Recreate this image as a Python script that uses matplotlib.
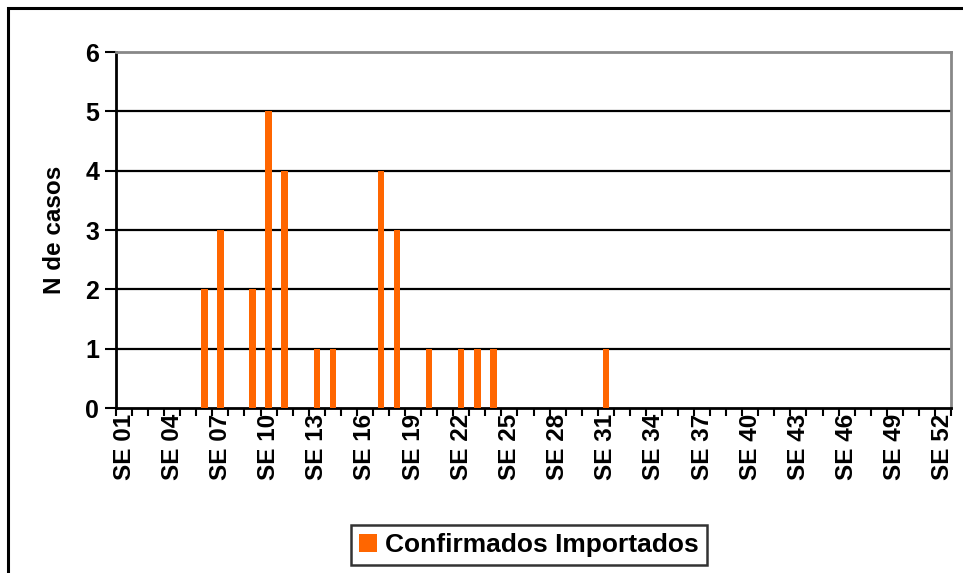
import matplotlib as mpl
mpl.use('agg')
import matplotlib.pyplot as plt
from matplotlib.patches import Rectangle
import numpy as np

# epidemiological weeks and confirmed imported cases
semanas = ['SE %02d' % s for s in range(1, 53)]
casos = [0, 0, 0, 0, 0, 2, 3, 0, 2, 5, 4, 0, 1, 1, 0, 0, 4, 3, 0, 1,
         0, 1, 1, 1, 0, 0, 0, 0, 0, 0, 1, 0, 0, 0, 0, 0, 0, 0, 0, 0,
         0, 0, 0, 0, 0, 0, 0, 0, 0, 0, 0, 0]
serie = 'Confirmados Importados'

plt.rcParams['font.family'] = ['Liberation Sans', 'DejaVu Sans']
plt.rcParams['font.weight'] = 'bold'

fig = plt.figure(figsize=(9.63, 5.73), dpi=100)
ax = fig.add_axes([116/963, 1-408/573, 835/963, 356/573])

# outer chart frame
fig.patches.append(Rectangle((8/963, -0.1), 1.2, 1-8/573+0.1, transform=fig.transFigure,
                             fill=False, edgecolor='black', lw=2.2))

x = np.arange(len(semanas))
ax.bar(x, casos, width=0.4, color='#FF6600', zorder=3, label=serie)

ax.set_xlim(-0.5, len(semanas)-0.5)
ax.set_ylim(0, 6)
ax.set_yticks(range(7))
for y in range(1, 6):
    ax.axhline(y, color='black', lw=1.6, zorder=1)

ax.set_xticks(np.arange(-0.5, len(semanas), 1), minor=False)
ax.set_xticklabels([])
ax.set_xticks(x[::3], minor=True)
ax.set_xticklabels(semanas[::3], minor=True, rotation=90, fontsize=17.5, fontweight='bold')
ax.tick_params(axis='x', which='major', direction='out', length=6, width=1.5)
ax.tick_params(axis='x', which='minor', length=0, pad=4)
ax.tick_params(axis='y', direction='out', length=8, width=1.5, labelsize=18, pad=4)

for s in ['left', 'bottom']:
    ax.spines[s].set_linewidth(2)
    ax.spines[s].set_color('black')
for s in ['top', 'right']:
    ax.spines[s].set_linewidth(2)
    ax.spines[s].set_color('#888888')

ax.set_ylabel('N de casos', fontsize=17.5, fontweight='bold', labelpad=14)

leg = fig.legend(loc='center', bbox_to_anchor=(529/963, 1-545/573), fontsize=19,
                 frameon=True, fancybox=False, edgecolor='black', handlelength=0.7,
                 handleheight=0.7, handletextpad=0.3, borderpad=0.3)
leg.get_frame().set_linewidth(1.8)
for t in leg.get_texts():
    t.set_fontweight('bold')

plt.savefig('out.png', dpi=100)
